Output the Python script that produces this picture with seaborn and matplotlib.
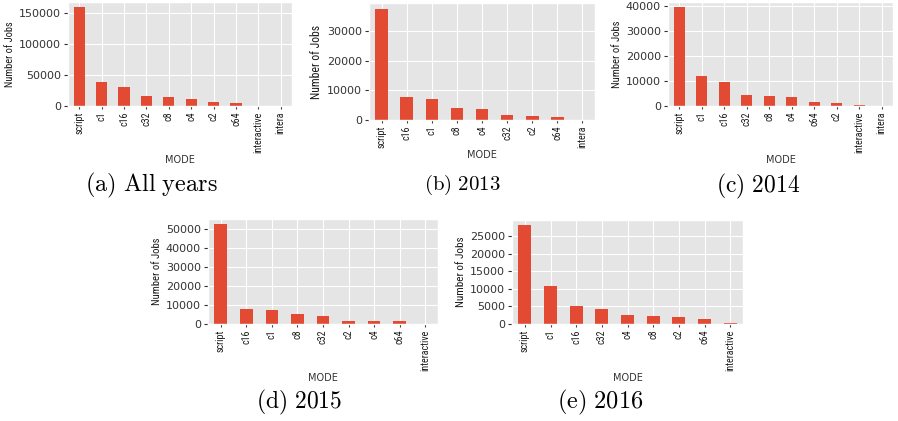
import matplotlib
matplotlib.use("Agg")
import matplotlib.pyplot as plt
from matplotlib.ticker import MultipleLocator
import seaborn as sns

# Job counts per submission mode
modes_all = ["script", "c1", "c16", "c32", "c8", "c4", "c2", "c64", "interactive", "intera"]
jobs_all = [160000, 38300, 30200, 16700, 14600, 10800, 6500, 4900, 200, 10]

modes_2013 = ["script", "c16", "c1", "c8", "c4", "c32", "c2", "c64", "intera"]
jobs_2013 = [37500, 7600, 7150, 3900, 3550, 1700, 1450, 1000, 10]

modes_2014 = ["script", "c1", "c16", "c32", "c8", "c4", "c64", "c2", "interactive", "intera"]
jobs_2014 = [39700, 12000, 9600, 4500, 4000, 3600, 1450, 1200, 300, 5]

modes_2015 = ["script", "c16", "c1", "c8", "c32", "c2", "c4", "c64", "interactive"]
jobs_2015 = [52500, 8000, 7350, 5250, 4000, 1600, 1600, 1500, 30]

modes_2016 = ["script", "c1", "c16", "c32", "c4", "c8", "c2", "c64", "interactive"]
jobs_2016 = [28100, 10900, 5150, 4200, 2550, 2350, 1850, 1300, 250]

captions = [r"$\mathrm{(a)\ All\ years}$", r"$\mathrm{(b)\ 2013}$", r"$\mathrm{(c)\ 2014}$",
            r"$\mathrm{(d)\ 2015}$", r"$\mathrm{(e)\ 2016}$"]
caption_sizes = [17.5, 15, 17, 17, 17.5]
ylabel_sizes = [7.5, 8.5, 7.7, 7.7, 8.0]
tick_steps = [50000, 10000, 10000, 10000, 5000]

plt.style.use("ggplot")
plt.rcParams["mathtext.fontset"] = "cm"

W, H = 898, 421
fig = plt.figure(figsize=(W / 100, H / 100), dpi=100, facecolor="white")

# panel boxes in pixels: left, right, top, bottom ; caption centre x, y
boxes = [
    (68, 292, 2, 106, 151, 185),
    (369, 595, 3, 120, 462, 185),
    (668, 893, 2, 106, 758, 186),
    (208, 438, 219, 324, 299, 402),
    (512, 743, 220, 324, 600, 402),
]
panels = [
    (modes_all, jobs_all),
    (modes_2013, jobs_2013),
    (modes_2014, jobs_2014),
    (modes_2015, jobs_2015),
    (modes_2016, jobs_2016),
]

narrow = ["Roboto Condensed", "DejaVu Sans"]

for (l, r, t, b, cx, cy), (modes, jobs), cap, csize, ysize, step in zip(
        boxes, panels, captions, caption_sizes, ylabel_sizes, tick_steps):
    ax = fig.add_axes([l / W, 1 - b / H, (r - l) / W, (b - t) / H])
    sns.barplot(x=modes, y=jobs, color="#E24A33", saturation=1, width=0.5,
                errorbar=None, ax=ax)
    ax.set_ylim(0, max(jobs) * 1.05)
    ax.set_xlim(-0.5, len(modes) - 0.5)
    ax.yaxis.set_major_locator(MultipleLocator(step))
    ax.xaxis.grid(True, color="white")
    ax.yaxis.grid(True, color="white")
    ax.set_axisbelow(True)
    ax.tick_params(axis="y", labelsize=8, colors="#333333", length=3, pad=2)
    ax.tick_params(axis="x", length=2, colors="#444444", pad=2)
    for lab in ax.get_xticklabels():
        lab.set_rotation(90)
        lab.set_fontfamily(narrow)
        lab.set_fontsize(7.2)
        lab.set_color("#1a1a1a")
    ax.set_xlabel("MODE", fontsize=7, color="#333333", labelpad=1.5)
    ax.set_ylabel("Number of Jobs", fontsize=ysize, color="#1a1a1a", family=narrow, labelpad=3)
    fig.text(cx / W, 1 - cy / H, cap, fontsize=csize, ha="center", va="center", color="black")

fig.savefig("out.png", dpi=100, facecolor="white")
